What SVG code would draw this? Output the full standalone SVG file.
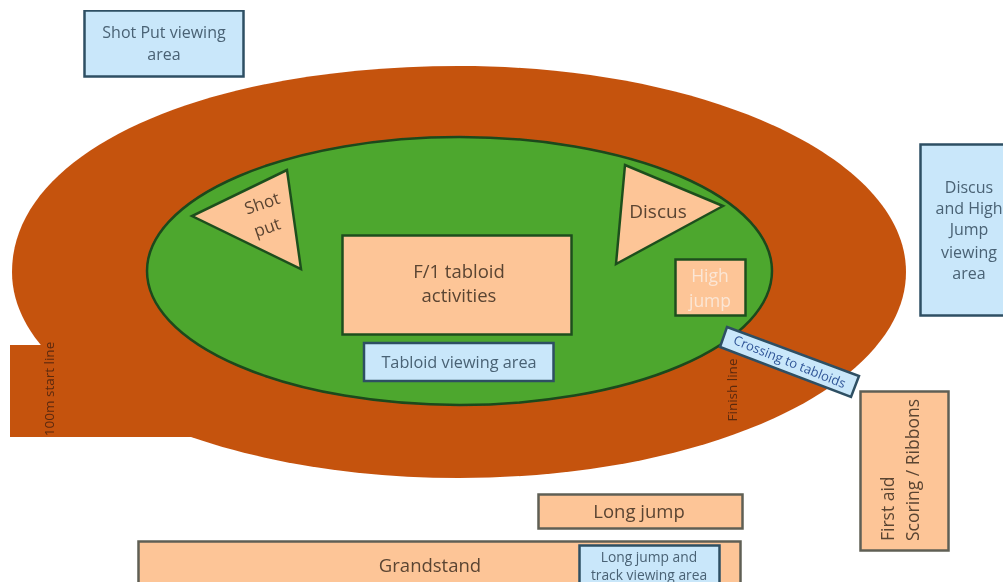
<svg xmlns="http://www.w3.org/2000/svg" width="1003" height="582" viewBox="0 0 1003 582">
<style>
text{font-family:"Open Sans","Liberation Sans",sans-serif;text-anchor:middle}
.o{fill:#fdc597;stroke:#5f5f55;stroke-width:2.5}
.og{fill:#fdc597;stroke:#1f4f1f;stroke-width:2.5}
.b{fill:#c9e7fa;stroke:#2d4f63;stroke-width:2.5}
.d{fill:#5a4432}
.bt{fill:#4a6274}
.s{text-anchor:start}
</style>
<defs><filter id="soft" x="0" y="0" width="100%" height="100%"><feGaussianBlur stdDeviation="0.55"/></filter></defs>
<rect width="1003" height="582" fill="#fff"/>
<g filter="url(#soft)">
<g id="track">
<path d="M12 272C12 150 205 66 459 66C706 66 906 158 906 272C906 386 706 478 459 478C212 478 12 386 12 272Z" fill="#c55211"/>
<rect x="10" y="345" width="185" height="92" fill="#c55211"/>
</g>
<g id="infield"><ellipse cx="459.500" cy="271" rx="312.500" ry="134" fill="#4ea72e" stroke="#1c4a1c" stroke-width="2.500"/></g>
<g id="start-line"><text transform="translate(54 389) rotate(-90)" font-size="13.500" fill="#5a2a10">100m start line</text></g>
<g id="finish-line"><text transform="translate(737 390) rotate(-90)" font-size="13.500" fill="#5a2a10">Finish line</text></g>
<g id="shot-put-viewing"><rect class="b" x="84.500" y="10.500" width="159" height="66"/><text class="bt" x="164" y="38" font-size="16">Shot Put viewing</text><text class="bt" x="164" y="60" font-size="16">area</text></g>
<g id="shot-put"><polygon class="og" points="287,170 192,216 301,269"/><text class="d" transform="translate(264 209) rotate(-19)" font-size="17">Shot</text><text class="d" transform="translate(269 233) rotate(-19)" font-size="17">put</text></g>
<g id="discus"><polygon class="og" points="625,165 723,206 616,264"/><text class="d" x="658" y="218" font-size="19">Discus</text></g>
<g id="high-jump"><rect class="og" x="675.500" y="259.500" width="70" height="56"/><text x="710" y="282" font-size="17.500" fill="#fbe6d5">High</text><text x="710" y="307" font-size="17.500" fill="#fbe6d5">jump</text></g>
<g id="tabloid-activities"><rect class="og" x="342.500" y="235.500" width="229" height="99"/><text class="d" x="459" y="278" font-size="18.500">F/1 tabloid</text><text class="d" x="459" y="302" font-size="18.500">activities</text></g>
<g id="tabloid-viewing"><rect class="b" x="364" y="343" width="189.500" height="38"/><text class="bt" x="459" y="368" font-size="16.300">Tabloid viewing area</text></g>
<g id="crossing"><polygon class="b" points="727,327 859,376 851,397 720,347"/><text transform="translate(788 366) rotate(22)" font-size="13" fill="#2f5597">Crossing to tabloids</text></g>
<g id="discus-viewing"><rect class="b" x="920.500" y="144.500" width="90" height="171"/><text class="bt" x="969" y="193" font-size="16">Discus</text><text class="bt" x="969" y="214" font-size="16">and High</text><text class="bt" x="969" y="235" font-size="16">Jump</text><text class="bt" x="969" y="258" font-size="16">viewing</text><text class="bt" x="969" y="279" font-size="16">area</text></g>
<g id="first-aid"><rect class="o" x="860.500" y="391.500" width="88" height="159"/><text class="d s" transform="translate(894 541) rotate(-90)" font-size="17.500">First aid</text><text class="d s" transform="translate(919 541) rotate(-90)" font-size="17.500">Scoring / Ribbons</text></g>
<g id="long-jump"><rect class="o" x="538.500" y="494.500" width="204" height="34"/><text class="d" x="639" y="518" font-size="18.500">Long jump</text></g>
<g id="grandstand"><rect class="o" x="138.500" y="541.500" width="602" height="50"/><text class="d" x="430" y="572" font-size="18.500">Grandstand</text></g>
<g id="long-jump-viewing"><rect class="b" x="579.500" y="545.500" width="140" height="45"/><text class="bt" x="649" y="562" font-size="13.800">Long jump and</text><text class="bt" x="649" y="580" font-size="13.800">track viewing area</text></g>
</g>
</svg>
